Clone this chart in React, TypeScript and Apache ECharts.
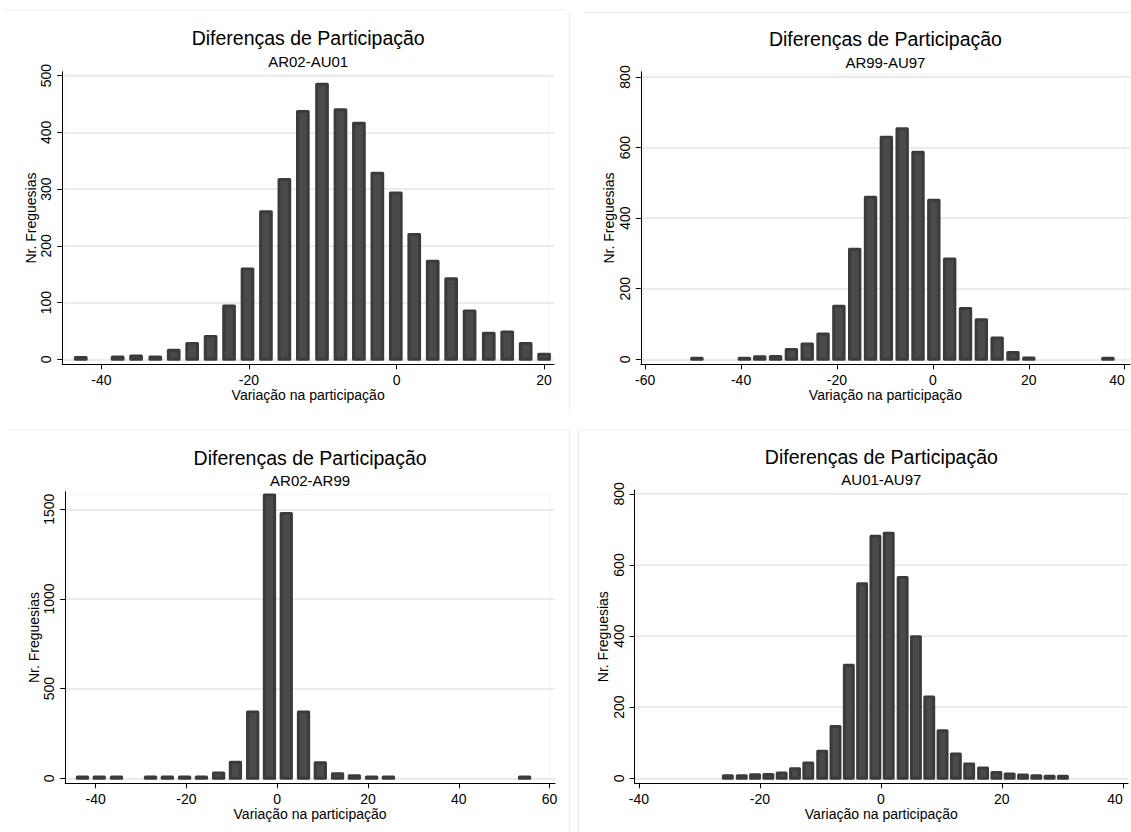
import React, { useEffect, useRef } from "react";
import * as echarts from "echarts";

// ---------- data ----------
const titleMain = "Diferenças de Participação";
const subtitles = ["AR02-AU01", "AR99-AU97", "AR02-AR99", "AU01-AU97"];
const xTitle = "Variação na participação";
const yTitle = "Nr. Freguesias";

// panel 1: AR02-AU01
const p1Centers = [-42.8, -37.8, -35.3, -32.7, -30.2, -27.7, -25.2, -22.7, -20.2, -17.7, -15.2, -12.7, -10.1, -7.6, -5.1, -2.6, -0.1, 2.4, 4.9, 7.4, 9.9, 12.5, 15.0, 17.5, 20.0];
const p1Counts = [3, 4, 6, 4, 16, 28, 40, 94, 159, 260, 317, 437, 485, 440, 416, 328, 293, 220, 173, 142, 85, 46, 48, 28, 9];
const p1XTicks = [-40, -20, 0, 20];
const p1YTicks = [0, 100, 200, 300, 400, 500];

// panel 2: AR99-AU97
const p2Centers = [-49.2, -39.3, -36.1, -32.8, -29.5, -26.2, -22.9, -19.6, -16.3, -13.0, -9.7, -6.4, -3.1, 0.2, 3.5, 6.8, 10.1, 13.4, 16.7, 20.0, 36.5];
const p2Counts = [3, 3, 7, 8, 28, 43, 72, 150, 312, 459, 629, 653, 587, 451, 284, 144, 112, 60, 19, 4, 3];
const p2XTicks = [-60, -40, -20, 0, 20, 40];
const p2YTicks = [0, 200, 400, 600, 800];

// panel 3: AR02-AR99
const p3Centers = [-42.9, -39.2, -35.4, -27.9, -24.2, -20.4, -16.7, -12.9, -9.2, -5.4, -1.7, 2.0, 5.8, 9.5, 13.3, 17.0, 20.8, 24.5, 54.5];
const p3Counts = [7, 7, 7, 7, 7, 7, 7, 29, 90, 369, 1579, 1477, 369, 86, 25, 14, 7, 7, 7];
const p3XTicks = [-40, -20, 0, 20, 40, 60];
const p3YTicks = [0, 500, 1000, 1500];

// panel 4: AU01-AU97
const p4Centers = [-25.3, -23.0, -20.8, -18.6, -16.4, -14.2, -12.0, -9.7, -7.5, -5.3, -3.1, -0.9, 1.3, 3.6, 5.8, 8.0, 10.2, 12.4, 14.6, 16.9, 19.1, 21.3, 23.5, 25.7, 27.9, 30.1];
const p4Counts = [7, 7, 10, 11, 15, 27, 43, 76, 146, 318, 547, 681, 689, 565, 398, 229, 134, 68, 40, 29, 16, 12, 9, 7, 6, 6];
const p4XTicks = [-40, -20, 0, 20, 40];
const p4YTicks = [0, 200, 400, 600, 800];

// ---------- layout ----------
const panels = [
  { centers: p1Centers, counts: p1Counts, xTicks: p1XTicks, yTicks: p1YTicks, xMin: -45.3, xMax: 21.34, yMin: -8.82, yMax: 507, left: 62.3, top: 71.7, right: 554, bottom: 364.3, barW: 13.7, titleY: 37.5, subY: 61.5, maxAlign: "center" },
  { centers: p2Centers, counts: p2Counts, xTicks: p2XTicks, yTicks: p2YTicks, xMin: -60.9, xMax: 41.1, yMin: -14.2, yMax: 815, left: 640.8, top: 71.7, right: 1130, bottom: 364.3, barW: 13.4, titleY: 38.5, subY: 62.3, maxAlign: "right" },
  { centers: p3Centers, counts: p3Counts, xTicks: p3XTicks, yTicks: p3YTicks, xMin: -46.7, xMax: 61.2, yMin: -27.9, yMax: 1598, left: 65.2, top: 491.7, right: 555, bottom: 783.3, barW: 13.3, titleY: 458.3, subY: 480.7, maxAlign: "center" },
  { centers: p4Centers, counts: p4Counts, xTicks: p4XTicks, yTicks: p4YTicks, xMin: -40.7, xMax: 40.86, yMin: -14.1, yMax: 811, left: 634.7, top: 490, right: 1128, bottom: 783.3, barW: 11.9, titleY: 457.3, subY: 479.3, maxAlign: "right" },
];

const FONT = "'Liberation Sans', Arial, Helvetica, sans-serif";
const faint = "#ececec";
const OUTLINE = 3;

export default function App() {
  const ref = useRef<HTMLDivElement>(null);
  useEffect(() => {
    if (!ref.current) return;
    const chart = echarts.init(ref.current, undefined, { renderer: "svg" });

    const grid: any[] = [];
    const xAxis: any[] = [];
    const yAxis: any[] = [];
    const series: any[] = [];
    const graphic: any[] = [];

    panels.forEach((p, i) => {
      grid.push({
        left: p.left,
        top: p.top,
        width: p.right - p.left,
        height: p.bottom - p.top,
        containLabel: false,
        outerBoundsMode: "none",
      });
      xAxis.push({
        type: "value",
        gridIndex: i,
        min: p.xMin,
        max: p.xMax,
        name: xTitle,
        nameLocation: "middle",
        nameGap: 23.5,
        nameTextStyle: { fontFamily: FONT, fontSize: 14, color: "#000" },
        axisLine: { show: true, onZero: false, lineStyle: { color: "#000", width: 1 } },
        axisTick: { show: true, inside: false, length: 5, customValues: p.xTicks, lineStyle: { color: "#000" } },
        axisLabel: {
          show: true,
          customValues: p.xTicks,
          margin: 9,
          fontFamily: FONT,
          fontSize: 14,
          color: "#000",
          alignMaxLabel: p.maxAlign,
          formatter: (v: number) => String(v),
        },
        splitLine: { show: false },
      });
      yAxis.push({
        type: "value",
        gridIndex: i,
        min: p.yMin,
        max: p.yMax,
        name: yTitle,
        nameLocation: "middle",
        nameGap: 24.5,
        nameTextStyle: { fontFamily: FONT, fontSize: 14, color: "#000" },
        axisLine: { show: true, onZero: false, lineStyle: { color: "#000", width: 1 } },
        axisTick: { show: true, inside: false, length: 5, customValues: p.yTicks, lineStyle: { color: "#000" } },
        axisLabel: {
          show: true,
          customValues: p.yTicks,
          rotate: 90,
          margin: 9,
          fontFamily: FONT,
          fontSize: 14,
          color: "#000",
          formatter: (v: number) => String(v),
        },
        splitLine: { show: true, lineStyle: { color: "#e6e6e6", width: 1.5 } },
      });
      const w = p.barW;
      series.push({
        type: "custom",
        xAxisIndex: i,
        yAxisIndex: i,
        silent: true,
        encode: { x: 0, y: 1 },
        data: p.centers.map((c, k) => [c, p.counts[k]]),
        renderItem: (_params: any, api: any) => {
          const xv = api.value(0);
          const yv = api.value(1);
          const top = api.coord([xv, yv]);
          const base = api.coord([xv, 0]);
          return {
            type: "rect",
            shape: {
              x: top[0] - w / 2 + OUTLINE / 2,
              y: top[1],
              width: w - OUTLINE,
              height: base[1] - top[1],
            },
            style: {
              fill: "#4a4a4a",
              stroke: "#3b3b3b",
              lineWidth: OUTLINE,
              lineJoin: "round",
            },
          };
        },
      });
      const cx = (p.left + p.right) / 2;
      graphic.push({
        type: "text",
        x: cx,
        y: p.titleY,
        style: { text: titleMain, fontFamily: FONT, fontSize: 19.5, fill: "#000", align: "center", verticalAlign: "middle" },
      });
      graphic.push({
        type: "text",
        x: cx,
        y: p.subY,
        style: { text: subtitles[i], fontFamily: FONT, fontSize: 15, fill: "#000", align: "center", verticalAlign: "middle" },
      });
      // faint inner plot-region outline
      graphic.push({
        type: "rect",
        silent: true,
        shape: { x: p.left + 3, y: p.top + 3, width: p.right - p.left - 8, height: p.bottom - p.top - 8 },
        style: { fill: "none", stroke: "#f3f3f3", lineWidth: 1 },
        z: -1,
      });
    });

    // faint panel borders (graph regions)
    const lines = [
      [6, 10, 565, 10],
      [584, 12.7, 1131, 12.7],
      [569.3, 12.7, 569.3, 410],
      [9, 430, 569.3, 430],
      [569.3, 430, 569.3, 832],
      [578.3, 430, 1131, 430],
      [578.3, 430, 578.3, 832],
    ];
    lines.forEach((l) =>
      graphic.push({
        type: "line",
        silent: true,
        shape: { x1: l[0], y1: l[1], x2: l[2], y2: l[3] },
        style: { stroke: faint, lineWidth: 1 },
      })
    );

    chart.setOption({
      animation: false,
      backgroundColor: "#ffffff",
      grid,
      xAxis,
      yAxis,
      series,
      graphic,
    });
    return () => chart.dispose();
  }, []);

  return (
    <div
      ref={ref}
      style={{ position: "absolute", left: 0, top: 0, width: 1131, height: 832, background: "#fff" }}
    />
  );
}
